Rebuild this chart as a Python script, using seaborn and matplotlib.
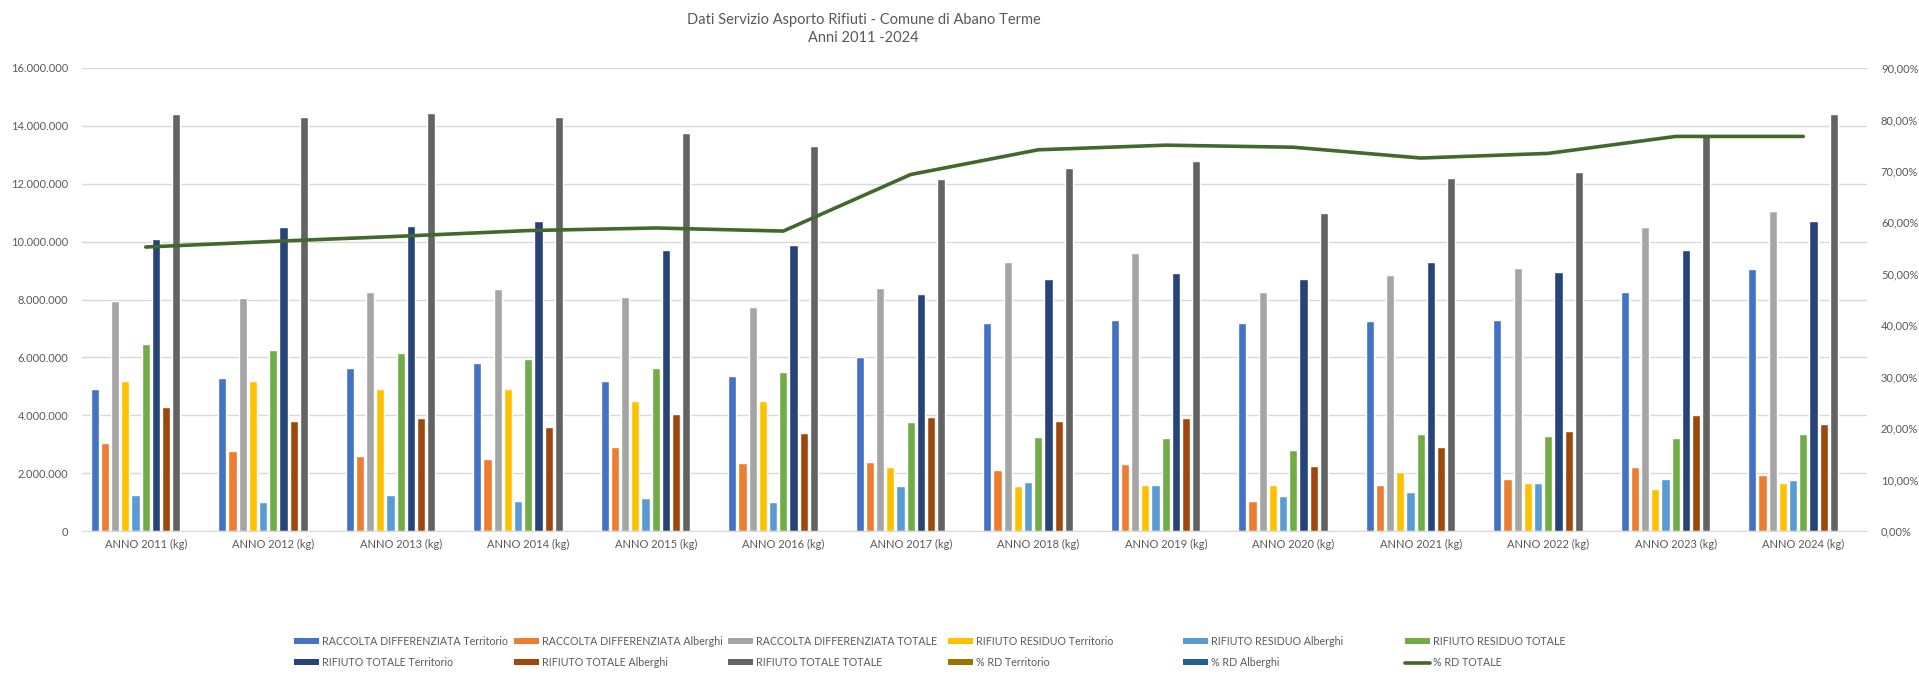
import numpy as np
import pandas as pd
import matplotlib
matplotlib.use('Agg')
import matplotlib.pyplot as plt
import seaborn as sns
from matplotlib.patches import Patch
from matplotlib.lines import Line2D
from matplotlib.ticker import FuncFormatter, MultipleLocator

# Data (kg per anno)
anni = ['ANNO 2011 (kg)', 'ANNO 2012 (kg)', 'ANNO 2013 (kg)', 'ANNO 2014 (kg)',
        'ANNO 2015 (kg)', 'ANNO 2016 (kg)', 'ANNO 2017 (kg)', 'ANNO 2018 (kg)',
        'ANNO 2019 (kg)', 'ANNO 2020 (kg)', 'ANNO 2021 (kg)', 'ANNO 2022 (kg)',
        'ANNO 2023 (kg)', 'ANNO 2024 (kg)']

rd_territorio = [4900000, 5300000, 5650000, 5800000, 5200000, 5350000, 6000000,
                 7200000, 7300000, 7200000, 7250000, 7300000, 8250000, 9050000]
rd_alberghi = [3050000, 2750000, 2600000, 2500000, 2900000, 2350000, 2400000,
               2100000, 2300000, 1050000, 1600000, 1800000, 2200000, 1950000]
rd_totale = [7950000, 8050000, 8250000, 8350000, 8100000, 7750000, 8400000,
             9300000, 9600000, 8250000, 8850000, 9100000, 10500000, 11050000]
rr_territorio = [5200000, 5200000, 4900000, 4900000, 4500000, 4500000, 2200000,
                 1550000, 1600000, 1600000, 2050000, 1650000, 1450000, 1650000]
rr_alberghi = [1250000, 1000000, 1250000, 1050000, 1150000, 1000000, 1550000,
               1700000, 1600000, 1200000, 1350000, 1650000, 1800000, 1750000]
rr_totale = [6450000, 6250000, 6150000, 5950000, 5650000, 5500000, 3750000,
             3250000, 3200000, 2800000, 3350000, 3300000, 3200000, 3350000]
rt_territorio = [10100000, 10500000, 10550000, 10700000, 9700000, 9900000, 8200000,
                 8700000, 8900000, 8700000, 9300000, 8950000, 9700000, 10700000]
rt_alberghi = [4300000, 3800000, 3900000, 3600000, 4050000, 3400000, 3950000,
               3800000, 3900000, 2250000, 2900000, 3450000, 4000000, 3700000]
rt_totale = [14400000, 14300000, 14450000, 14300000, 13750000, 13300000, 12150000,
             12550000, 12800000, 11000000, 12200000, 12400000, 13700000, 14400000]
# percentuali (frazioni) - le prime due sono barre quasi nulle sull'asse primario
pct_rd_territorio = [0.49, 0.50, 0.54, 0.54, 0.54, 0.54, 0.73,
                     0.83, 0.82, 0.83, 0.78, 0.82, 0.85, 0.85]
pct_rd_alberghi = [0.71, 0.72, 0.68, 0.70, 0.72, 0.69, 0.61,
                   0.55, 0.59, 0.47, 0.55, 0.52, 0.55, 0.53]
pct_rd_totale = [0.552, 0.563, 0.573, 0.584, 0.589, 0.583, 0.693,
                 0.741, 0.750, 0.746, 0.725, 0.734, 0.767, 0.767]

serie = ['RACCOLTA DIFFERENZIATA Territorio', 'RACCOLTA DIFFERENZIATA Alberghi',
         'RACCOLTA DIFFERENZIATA TOTALE', 'RIFIUTO RESIDUO Territorio',
         'RIFIUTO RESIDUO Alberghi', 'RIFIUTO RESIDUO TOTALE',
         'RIFIUTO TOTALE Territorio', 'RIFIUTO TOTALE Alberghi',
         'RIFIUTO TOTALE TOTALE', '% RD Territorio', '% RD Alberghi']
valori = [rd_territorio, rd_alberghi, rd_totale, rr_territorio, rr_alberghi,
          rr_totale, rt_territorio, rt_alberghi, rt_totale,
          pct_rd_territorio, pct_rd_alberghi]
colori = ['#4472C4', '#ED7D31', '#A5A5A5', '#FFC000', '#5B9BD5', '#70AD47',
          '#264478', '#9E480E', '#636363', '#997300', '#255E91']
col_line = '#43682B'

df = pd.DataFrame([{'anno': a, 'serie': s, 'kg': v}
                   for s, vals in zip(serie, valori)
                   for a, v in zip(anni, vals)])

sns.set_style('white')
plt.rcParams['font.family'] = ['Lato', 'DejaVu Sans']
txt = '#595959'

fig = plt.figure(figsize=(19.19, 6.78), dpi=100)
ax = fig.add_axes([82 / 1919, 1 - 531 / 678, (1867 - 82) / 1919, (531 - 68) / 678])

sns.barplot(data=df, x='anno', y='kg', hue='serie', hue_order=serie, order=anni,
            palette=colori, saturation=1, width=0.88, gap=0.2, errorbar=None,
            legend=False, ax=ax)
ax.set_xlim(-0.5, len(anni) - 0.5)
ax.set_ylim(0, 16000000)
ax.yaxis.set_major_locator(MultipleLocator(2000000))
ax.yaxis.set_major_formatter(FuncFormatter(lambda v, p: f'{int(v):,}'.replace(',', '.')))
ax.grid(axis='y', color='#D9D9D9', linewidth=1)
ax.set_axisbelow(True)
ax.set_xlabel('')
ax.set_ylabel('')
for s in ['top', 'right', 'left']:
    ax.spines[s].set_visible(False)
ax.spines['bottom'].set_color('#D9D9D9')
ax.tick_params(axis='both', length=0, labelsize=8, colors=txt)
ax.tick_params(axis='y', pad=10)
ax.tick_params(axis='x', pad=6)

# linea % RD TOTALE sull'asse secondario
ax2 = ax.twinx()
sns.lineplot(x=np.arange(len(anni)), y=pct_rd_totale, ax=ax2, color=col_line,
             linewidth=2.6)
ax2.set_ylim(0, 0.9)
ax2.yaxis.set_major_locator(MultipleLocator(0.1))
ax2.yaxis.set_major_formatter(FuncFormatter(lambda v, p: f'{v * 100:.2f}%'.replace('.', ',')))
ax2.grid(False)
for s in ax2.spines.values():
    s.set_visible(False)
ax2.tick_params(axis='y', length=0, labelsize=8, colors=txt, pad=10)

fig.text(0.45, 1 - 20 / 678, 'Dati Servizio Asporto Rifiuti - Comune di Abano Terme',
         ha='center', va='center', fontsize=10.5, color=txt)
fig.text(0.45, 1 - 38 / 678, 'Anni 2011 -2024', ha='center', va='center',
         fontsize=10.5, color=txt)

# legenda: 6 colonne, 2 righe
handles = [Patch(facecolor=c, edgecolor='none') for c in colori]
handles.append(Line2D([0], [0], color=col_line, linewidth=2.6))
etichette = serie + ['% RD TOTALE']
col_x = [294, 514, 728, 948, 1183, 1405]
for i, x in enumerate(col_x):
    fig.legend(handles=[handles[i], handles[i + 6]],
               labels=[etichette[i], etichette[i + 6]],
               loc='upper left', bbox_to_anchor=(x / 1919, 1 - 636 / 678),
               frameon=False, fontsize=7.7, handlelength=2.3, handleheight=0.5,
               handletextpad=0.3, labelspacing=0.95, borderaxespad=0,
               borderpad=0, labelcolor=txt)

fig.savefig('out.png', dpi=100)
